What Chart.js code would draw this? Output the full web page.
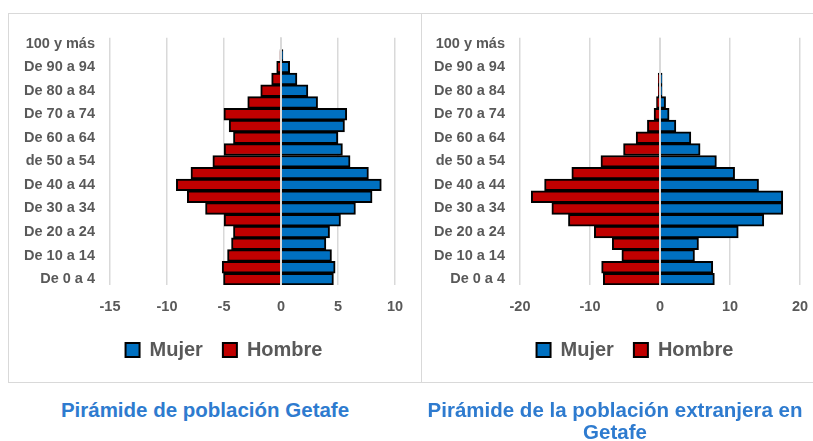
<!DOCTYPE html>
<html>
<head>
<meta charset="utf-8">
<script src="https://cdn.jsdelivr.net/npm/chart.js@4"></script>
<style>
  html, body { margin: 0; padding: 0; background: #fff; overflow: hidden; }
  body { width: 813px; height: 441px; position: relative; font-family: "Liberation Sans", Arial, sans-serif; }
  .box { position: absolute; top: 13px; height: 368px; width: 412px; border: 1px solid #d9d9d9; }
  #boxLeft { left: 8px; }
  #boxRight { left: 420px; border-left: none; }
  .title { position: absolute; top: 399px; width: 410px; text-align: center; color: #2e7bcf;
           font-weight: bold; font-size: 20.5px; line-height: 22px; white-space: nowrap; }
</style>
</head>
<body>
<div class="box" id="boxLeft"><canvas id="graphLeft" width="412" height="368"></canvas></div>
<div class="box" id="boxRight"><canvas id="graphRight" width="412" height="368"></canvas></div>
<div class="title" style="left:0">Pirámide de población Getafe</div>
<div class="title" style="left:410px">Pirámide de la población extranjera en<br>Getafe</div>

<script>
const ageGroups = ['De 0 a 4', 'De 5 a 9', 'De 10 a 14', 'De 15 a 19', 'De 20 a 24', 'De 25 a 29',
    'De 30 a 34', 'De 35 a 39', 'De 40 a 44', 'De 45 a 49', 'de 50 a 54', 'De 55 a 59',
    'De 60 a 64', 'De 65 a 69', 'De 70 a 74', 'De 75 a 79', 'De 80 a 84', 'De 85 a 89',
    'De 90 a 94', 'De 95 a 99', '100 y más'];

// Getafe, % de la población
const mujerGetafe = [4.6, 4.75, 4.43, 3.94, 4.26, 5.22, 6.53, 7.99, 8.8, 7.67, 6.06, 5.39, 4.99, 5.57, 5.77, 3.21, 2.36, 1.4, 0.76, 0.17, 0.03];
const hombreGetafe = [5.04, 5.16, 4.69, 4.34, 4.17, 4.99, 6.62, 8.22, 9.18, 7.9, 5.98, 4.99, 4.17, 4.55, 5.01, 2.92, 1.78, 0.82, 0.38, 0.09, 0.01];

// población extranjera en Getafe, %
const mujerExtranjera = [7.77, 7.54, 4.93, 5.5, 11.18, 14.83, 17.54, 17.54, 14.08, 10.66, 8.06, 5.73, 4.41, 2.27, 1.3, 0.8, 0.3, 0.3, 0, 0, 0];
const hombreExtranjera = [8.1, 8.34, 5.45, 6.82, 9.38, 13.08, 15.45, 18.39, 16.49, 12.6, 8.44, 5.21, 3.41, 1.8, 0.85, 0.5, 0.25, 0.25, 0, 0, 0];

const ticksGetafe = {min: -15, max: 10, step: 5};
const ticksExtranjera = {min: -20, max: 20, step: 10};

const grey = '#595959';
const fontFamily = '"Liberation Sans", Arial, sans-serif';

// linea del cero por encima de las barras
const zeroLine = {
    id: 'zeroLine',
    afterDatasetsDraw(chart) {
        const x = chart.scales.x.getPixelForValue(0);
        const area = chart.chartArea;
        const c = chart.ctx;
        c.save();
        c.strokeStyle = '#d9d9d9';
        c.lineWidth = 2;
        c.beginPath();
        c.moveTo(x, area.top);
        c.lineTo(x, area.bottom);
        c.stroke();
        c.restore();
    }
};

// la leyenda va un poco a la derecha, como en Excel
const legendShift = {
    id: 'legendShift',
    afterLayout(chart, args, opts) {
        chart.legend.left += opts.dx;
        chart.legend.right += opts.dx;
    }
};

function piramide(canvasId, mujer, hombre, ticks, yWidth, padRight, legendDx) {
    const ctx = document.getElementById(canvasId).getContext('2d');
    return new Chart(ctx, {
        type: 'bar',
        data: {
            labels: ageGroups,
            datasets: [{
                label: 'Mujer',
                data: mujer,
                backgroundColor: '#0070c0',
                borderColor: '#000',
                borderWidth: 2
            }, {
                label: 'Hombre',
                data: hombre.map(v => -v),
                backgroundColor: '#c00000',
                borderColor: '#000',
                borderWidth: 2
            }]
        },
        options: {
            indexAxis: 'y',
            responsive: false,
            animation: false,
            barPercentage: 1,
            categoryPercentage: 1,
            layout: {padding: {top: 22, right: padRight, bottom: 12, left: 0}},
            scales: {
                x: {
                    stacked: true,
                    min: ticks.min,
                    max: ticks.max,
                    ticks: {stepSize: ticks.step, padding: 13, color: grey,
                        font: {family: fontFamily, size: 14.5, weight: 'bold'}},
                    grid: {color: '#d9d9d9', lineWidth: 1.5, drawTicks: false},
                    border: {display: false},
                    afterFit: s => { s.height = 35; }
                },
                y: {
                    stacked: true,
                    reverse: true,
                    ticks: {
                        autoSkip: false,
                        padding: 15,
                        color: grey,
                        font: {family: fontFamily, size: 14.5, weight: 'bold'},
                        callback: (v, i) => i % 2 === 0 ? ageGroups[i] : ''
                    },
                    grid: {display: false, drawTicks: false},
                    border: {display: false},
                    afterFit: s => { s.width = yWidth; }
                }
            },
            plugins: {
                legend: {
                    position: 'bottom',
                    labels: {
                        boxWidth: 14,
                        boxHeight: 14,
                        padding: 20,
                        color: grey,
                        font: {family: fontFamily, size: 20, weight: 'bold'}
                    }
                },
                legendShift: {dx: legendDx},
                tooltip: {enabled: false}
            }
        },
        plugins: [zeroLine, legendShift]
    });
}

piramide('graphLeft', mujerGetafe, hombreGetafe, ticksGetafe, 101, 26, 22);
piramide('graphRight', mujerExtranjera, hombreExtranjera, ticksExtranjera, 100, 32, 25);
</script>
</body>
</html>
